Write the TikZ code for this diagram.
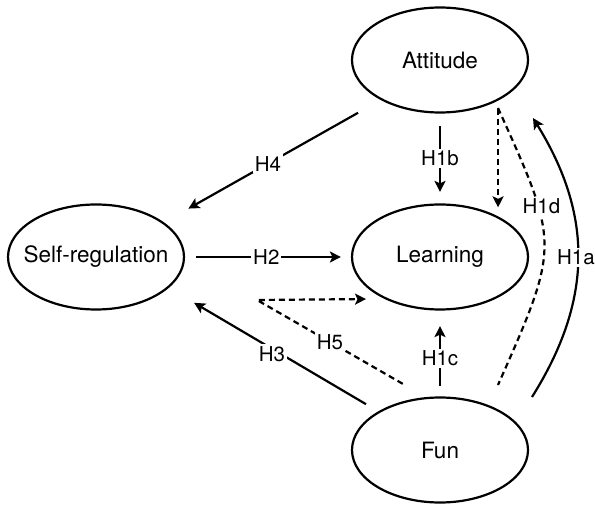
\documentclass[tikz,border=0pt]{standalone}
\usepackage{fontspec}
\setmainfont{TeX Gyre Heros}
\usetikzlibrary{shapes.geometric,arrows.meta,calc}
\begin{document}
\begin{tikzpicture}[x=1pt,y=-1pt,
  var/.style={ellipse,draw,line width=2.2pt,minimum width=176pt,minimum height=105pt,inner sep=0pt,font=\fontsize{22.5}{27}\selectfont},
  link/.style={line width=2.2pt,-{Stealth[length=11pt,width=11pt,inset=2.5pt]}},
  dashlink/.style={link,dash pattern=on 6pt off 4pt},
  dashline/.style={line width=2.2pt,dash pattern=on 6pt off 4pt},
  lbl/.style={fill=white,inner sep=2pt,font=\fontsize{20.5}{24}\selectfont}
]
\useasboundingbox (0,0) rectangle (595,505);

\node[var] (att) at (440,60) {Attitude};
\node[var] (learn) at (440,257) {Learning};
\node[var,inner xsep=-12pt] (self) at (96,257) {Self-regulation};
\node[var] (fun) at (440,450) {Fun};
\coordinate (h5) at (257,300);

% H4
\draw[link,shorten <=26pt,shorten >=28pt] (att.214) -- node[lbl,pos=0.52]{H4} (self.27);
% H1b
\draw[link,shorten <=12.5pt,shorten >=11.5pt] (att.south) -- node[lbl,pos=0.5]{H1b} (learn.north);
% dashed attitude -> learning
\draw[dashlink,shorten <=8pt,shorten >=9pt] (att.-35) -- (learn.35);
% H2
\draw[link,shorten <=11pt,shorten >=10pt] (self.east) -- node[lbl,pos=0.49]{H2} (learn.west);
% H1c
\draw[link,shorten <=10.5pt,shorten >=15.5pt] (fun.north) -- node[lbl,pos=0.44]{H1c} (learn.south);
% H3
\draw[link,shorten <=14.2pt,shorten >=29.4pt] (fun.148) -- node[lbl,pos=0.507,yshift=-5pt]{H3} (self.-23);
% H5
\draw[dashlink,shorten <=26.6pt,shorten >=18.4pt] (fun.105) -- node[lbl,pos=0.568]{H5} (h5) -- (learn.217);
% H1a
\draw[link] ($(fun)+(92,-53)$) .. controls (593,300) and (593,215) .. node[lbl,pos=0.5,xshift=-2pt,inner xsep=1pt]{H1a} ($(att)+(93,58)$);
% H1d
\draw[dashline] ($(att)+(58,48)$) .. controls (560,245) .. node[lbl,pos=0.32,xshift=3pt]{H1d} ($(fun)+(58,-65)$);
\end{tikzpicture}
\end{document}
